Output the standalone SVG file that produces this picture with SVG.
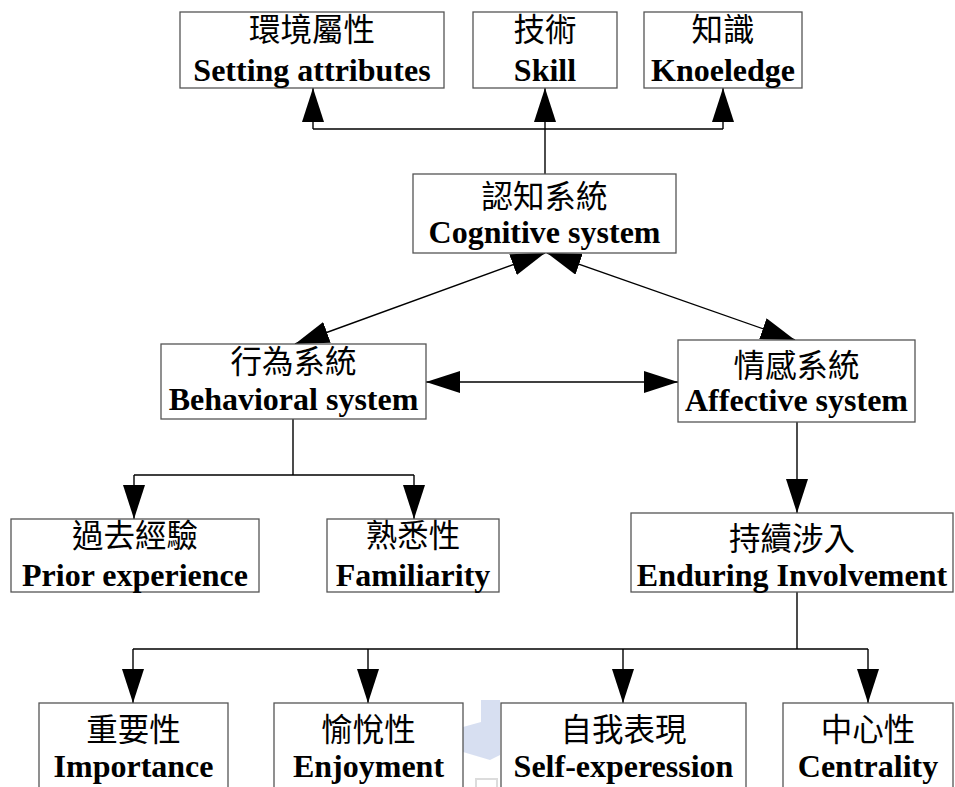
<svg xmlns="http://www.w3.org/2000/svg" width="955" height="787" viewBox="0 0 955 787">
  <style>
    .box { fill: #ffffff; stroke: #555555; stroke-width: 1.3; }
    .zh { font-family: "Noto Sans CJK TC", "Noto Sans CJK SC", sans-serif; font-size: 31.5px; fill: #000; text-anchor: middle; }
    .en { font-family: "Liberation Serif", "Times New Roman", serif; font-weight: bold; font-size: 32px; fill: #000; text-anchor: middle; }
    .wire { fill: none; stroke: #000; stroke-width: 1.4; }
  </style>
  <defs>
    <marker id="head" markerUnits="userSpaceOnUse" markerWidth="34" markerHeight="22" refX="34" refY="11" orient="auto-start-reverse" viewBox="0 0 34 22">
      <path d="M0,0 L34,11 L0,22 Z" fill="#000"/>
    </marker>
  </defs>

  <rect width="955" height="787" fill="#ffffff"/>

  <!-- faint background mark -->
  <g id="mark" opacity="0.9">
    <path d="M481,700 L500,700 L500,755 L490,760 L463,752 L463,727 L481,722 Z" fill="#d3dcef"/>
    <path d="M476,787 L476,779 L497,779 L497,787" fill="none" stroke="#d8d8d8" stroke-width="2"/>
  </g>

  <!-- connectors -->
  <g id="connectors">
    <path class="wire" d="M545,174 L545,88" marker-end="url(#head)"/>
    <path class="wire" d="M313,129 L723,129"/>
    <path class="wire" d="M313,129 L313,88" marker-end="url(#head)"/>
    <path class="wire" d="M723,129 L723,88" marker-end="url(#head)"/>
    <path class="wire" d="M295,344 L545,253" marker-start="url(#head)" marker-end="url(#head)"/>
    <path class="wire" d="M547,253 L795,340" marker-start="url(#head)" marker-end="url(#head)"/>
    <path class="wire" d="M426,382 L678,382" marker-start="url(#head)" marker-end="url(#head)"/>
    <path class="wire" d="M797,422 L797,513" marker-end="url(#head)"/>
    <path class="wire" d="M293,419 L293,475 M134,475 L414,475"/>
    <path class="wire" d="M134,475 L134,519" marker-end="url(#head)"/>
    <path class="wire" d="M414,475 L414,519" marker-end="url(#head)"/>
    <path class="wire" d="M797,592 L797,649 M133,649 L868,649"/>
    <path class="wire" d="M133,649 L133,703" marker-end="url(#head)"/>
    <path class="wire" d="M368,649 L368,703" marker-end="url(#head)"/>
    <path class="wire" d="M623,649 L623,703" marker-end="url(#head)"/>
    <path class="wire" d="M868,649 L868,703" marker-end="url(#head)"/>
  </g>

  <g id="setting">
    <rect class="box" x="180" y="12" width="264" height="76"/>
    <text class="zh" x="312" y="41">環境屬性</text>
    <text class="en" x="312" y="81">Setting attributes</text>
  </g>
  <g id="skill">
    <rect class="box" x="473" y="12" width="144" height="76"/>
    <text class="zh" x="545" y="41">技術</text>
    <text class="en" x="545" y="81">Skill</text>
  </g>
  <g id="knowledge">
    <rect class="box" x="644" y="12" width="158" height="76"/>
    <text class="zh" x="723" y="41">知識</text>
    <text class="en" x="723" y="81">Knoeledge</text>
  </g>

  <g id="cognitive">
    <rect class="box" x="413" y="174" width="263" height="79"/>
    <text class="zh" x="544.5" y="208">認知系統</text>
    <text class="en" x="544.5" y="243">Cognitive system</text>
  </g>

  <g id="behavioral">
    <rect class="box" x="161" y="344" width="265" height="75"/>
    <text class="zh" x="293.5" y="373">行為系統</text>
    <text class="en" x="293.5" y="410">Behavioral system</text>
  </g>
  <g id="affective">
    <rect class="box" x="678" y="340" width="237" height="82"/>
    <text class="zh" x="796.5" y="377">情感系統</text>
    <text class="en" x="796.5" y="411">Affective system</text>
  </g>

  <g id="prior">
    <rect class="box" x="11" y="519" width="248" height="73"/>
    <text class="zh" x="135" y="547">過去經驗</text>
    <text class="en" x="135" y="586">Prior experience</text>
  </g>
  <g id="familiarity">
    <rect class="box" x="327" y="519" width="172" height="73"/>
    <text class="zh" x="413" y="547">熟悉性</text>
    <text class="en" x="413" y="586">Familiarity</text>
  </g>
  <g id="enduring">
    <rect class="box" x="631" y="513" width="322" height="79"/>
    <text class="zh" x="792" y="550">持續涉入</text>
    <text class="en" x="792" y="586">Enduring Involvement</text>
  </g>

  <g id="importance">
    <rect class="box" x="39" y="703" width="189" height="100"/>
    <text class="zh" x="133.5" y="741">重要性</text>
    <text class="en" x="133.5" y="777">Importance</text>
  </g>
  <g id="enjoyment">
    <rect class="box" x="274" y="703" width="189" height="100"/>
    <text class="zh" x="368.5" y="741">愉悅性</text>
    <text class="en" x="368.5" y="777">Enjoyment</text>
  </g>
  <g id="self-expression">
    <rect class="box" x="501" y="703" width="245" height="100"/>
    <text class="zh" x="623.5" y="741">自我表現</text>
    <text class="en" x="623.5" y="777">Self-experession</text>
  </g>
  <g id="centrality">
    <rect class="box" x="783" y="703" width="170" height="100"/>
    <text class="zh" x="868" y="741">中心性</text>
    <text class="en" x="868" y="777">Centrality</text>
  </g>
</svg>
